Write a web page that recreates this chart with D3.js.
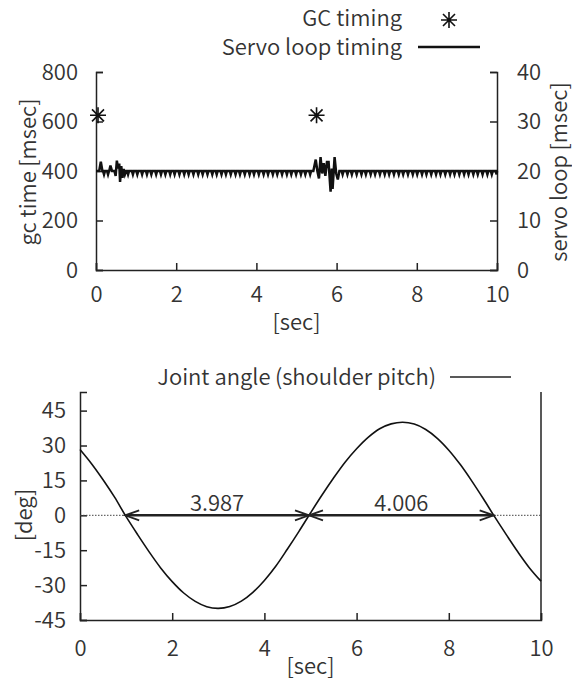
<!DOCTYPE html>
<html>
<head>
<meta charset="utf-8">
<script src="https://cdn.jsdelivr.net/npm/d3@7"></script>
<style>
  body { margin: 0; background: #fff; }
  text { font-family: "Noto Sans CJK JP", "Noto Sans", sans-serif; font-weight: 350; fill: #333; }
</style>
</head>
<body>
<svg id="svg1" width="572" height="682"></svg>
<script>
// top panel: gc events and servo loop timing
var gcTimes = [0.05, 5.5];
var gcMsec = [625, 625];
// regular small dips of the servo loop [sec]
var servoDipTimes = [0.2, 0.3, 0.8, 0.92, 1.03, 1.15, 1.27, 1.38, 1.5, 1.62, 1.73, 1.85, 1.96, 2.08, 2.2, 2.31,
    2.43, 2.55, 2.66, 2.78, 2.9, 3.01, 3.13, 3.24, 3.36, 3.48, 3.59, 3.71, 3.83, 3.94, 4.06, 4.18, 4.29, 4.41,
    4.52, 4.64, 4.76, 4.87, 4.99, 5.11, 5.22, 5.34, 6.15, 6.27, 6.38, 6.5, 6.62, 6.73, 6.85, 6.96, 7.08, 7.2,
    7.31, 7.43, 7.55, 7.66, 7.78, 7.9, 8.01, 8.13, 8.24, 8.36, 8.48, 8.59, 8.71, 8.83, 8.94, 9.06, 9.18, 9.29,
    9.41, 9.52, 9.64, 9.76, 9.87, 9.99];
var servoDipMs = 19.3;
var servoBaseMs = 20;
// the two noisy bursts [sec, msec]
var servoBurst1 = [[0.08, 20], [0.12, 21.9], [0.16, 20], [0.33, 20], [0.36, 21.1], [0.4, 20], [0.46, 20], [0.49, 19],
    [0.52, 22.1], [0.55, 20.5], [0.58, 21.5], [0.6, 17.8], [0.63, 21], [0.66, 18.6], [0.69, 20.4], [0.72, 19.3], [0.75, 20]];
var servoBurst2 = [[5.42, 20], [5.48, 22.3], [5.52, 20], [5.56, 18.5], [5.6, 22.8], [5.64, 19.5], [5.68, 21.6],
    [5.72, 19], [5.76, 21.8], [5.8, 21.8], [5.85, 15.8], [5.88, 20.5], [5.9, 16.4], [5.95, 22.8], [5.99, 19.5],
    [6.03, 18.3], [6.07, 20]];
var gcTicks = [0, 200, 400, 600, 800];
var servoTicks = [0, 10, 20, 30, 40];
var secTicks = [0, 2, 4, 6, 8, 10];

// bottom panel: joint angle
var angleTimes = [0, 0.25, 0.5, 0.75, 1, 1.25, 1.5, 1.75, 2, 2.25, 2.5, 2.75, 3, 3.25, 3.5, 3.75, 4, 4.25, 4.5, 4.75,
    5, 5.25, 5.5, 5.75, 6, 6.25, 6.5, 6.75, 7, 7.25, 7.5, 7.75, 8, 8.25, 8.5, 8.75, 9, 9.25, 9.5, 9.75, 10];
var angleDeg = [28.3, 22.2, 15.3, 7.8, -0.6, -8.3, -15.7, -22.6, -28.5, -33.4, -37, -39.3, -40, -39.2, -36.9, -33.1,
    -28, -21.8, -14.5, -6.9, 1, 8.7, 16, 22.8, 28.6, 33.5, 37.2, 39.3, 40, 39.2, 36.9, 33.1, 28, 21.8, 14.7, 7.1,
    -0.8, -8.4, -15.8, -22.6, -28.3];
var degTicks = [-45, -30, -15, 0, 15, 30, 45];
var periodStarts = [0.98, 4.967];
var periodEnds = [4.967, 8.973];
var periodLabels = ["3.987", "4.006"];

var svg = d3.select("#svg1");
var ink = "#222";
var tickLen = 7;
var fs = "22px";
var fmt = function (d) { return String(d); };

// ---------- top panel ----------
var x1 = d3.scaleLinear().domain([0, 10]).range([96, 497]),
    yGc = d3.scaleLinear().domain([0, 800]).range([270, 72]),
    ySv = d3.scaleLinear().domain([0, 40]).range([270, 72]);

var topG = svg.append("g");
topG.append("g").attr("transform", "translate(0,270)")
    .call(d3.axisBottom(x1).tickValues(secTicks).tickSize(-tickLen).tickPadding(tickLen + 9).tickFormat(fmt));
topG.append("g").attr("transform", "translate(96,0)")
    .call(d3.axisLeft(yGc).tickValues(gcTicks).tickSize(-tickLen).tickPadding(tickLen + 11).tickFormat(fmt));
topG.append("g").attr("transform", "translate(497,0)")
    .call(d3.axisRight(ySv).tickValues(servoTicks).tickSize(-tickLen).tickPadding(tickLen + 13).tickFormat(fmt));

// servo line: baseline with dips, plus the two bursts
var servoPts = servoBurst1.concat(servoBurst2);
servoDipTimes.forEach(function (t) {
    servoPts.push([t - 0.025, servoBaseMs], [t, servoDipMs], [t + 0.025, servoBaseMs]);
});
servoPts.push([0, servoBaseMs], [10, servoBaseMs]);
servoPts.sort(function (a, b) { return a[0] - b[0]; });
topG.append("path").datum(servoPts)
    .attr("fill", "none").attr("stroke", "#111").attr("stroke-width", 2.5).attr("stroke-linejoin", "miter")
    .attr("d", d3.line().x(function (d) { return x1(d[0]); }).y(function (d) { return ySv(d[1]); }));

var star = "M-8,0H8M0,-8V8M-6,-6L6,6M-6,6L6,-6";
topG.selectAll(".gc").data(gcTimes).enter().append("path").attr("class", "gc")
    .attr("transform", function (d, i) { return "translate(" + x1(d) + "," + yGc(gcMsec[i]) + ")"; })
    .attr("d", star).attr("stroke", "#111").attr("stroke-width", 1.6).attr("fill", "none");

// legend
topG.append("text").attr("x", 402).attr("y", 26).attr("text-anchor", "end").style("font-size", fs).text("GC timing");
topG.append("path").attr("transform", "translate(449,20)").attr("d", star).attr("stroke", "#111").attr("stroke-width", 1.6);
topG.append("text").attr("x", 402).attr("y", 55).attr("text-anchor", "end").style("font-size", fs).text("Servo loop timing");
topG.append("line").attr("x1", 418).attr("x2", 480).attr("y1", 47).attr("y2", 47).attr("stroke", "#111").attr("stroke-width", 2.4);

topG.append("text").attr("x", x1(5)).attr("y", 330).attr("text-anchor", "middle").style("font-size", fs).text("[sec]");
topG.append("text").attr("transform", "translate(26,172) rotate(-90)").attr("text-anchor", "middle")
    .attr("dominant-baseline", "central").style("font-size", fs).text("gc time\u2009[msec]");
topG.append("text").attr("transform", "translate(557,172) rotate(-90)").attr("text-anchor", "middle")
    .attr("dominant-baseline", "central").style("font-size", fs).text("servo loop\u2009[msec]");

// ---------- bottom panel ----------
var x2 = d3.scaleLinear().domain([0, 10]).range([80, 541]),
    y2 = d3.scaleLinear().domain([-45, 53]).range([620, 392]);

var bot = svg.append("g");
bot.append("g").attr("transform", "translate(0,620)")
    .call(d3.axisBottom(x2).tickValues(secTicks).tickSize(-tickLen).tickPadding(tickLen + 13).tickFormat(fmt));
bot.append("g").attr("transform", "translate(80,0)")
    .call(d3.axisLeft(y2).tickValues(degTicks).tickSize(-tickLen).tickPadding(tickLen + 7).tickFormat(fmt));
bot.append("line").attr("x1", x2(10)).attr("x2", x2(10)).attr("y1", y2(53)).attr("y2", y2(-45))
    .attr("stroke", ink).attr("stroke-width", 1.5);

bot.append("line").attr("x1", x2(0)).attr("x2", x2(10)).attr("y1", y2(0)).attr("y2", y2(0))
    .attr("stroke", "#444").attr("stroke-width", 1).attr("stroke-dasharray", "1.5,1.5");

bot.append("path").datum(angleTimes.map(function (t, i) { return [t, angleDeg[i]]; }))
    .attr("fill", "none").attr("stroke", "#111").attr("stroke-width", 1.6)
    .attr("d", d3.line().curve(d3.curveCatmullRom).x(function (d) { return x2(d[0]); }).y(function (d) { return y2(d[1]); }));

// period arrows
periodStarts.forEach(function (s, i) {
    var a = x2(s), b = x2(periodEnds[i]), y = y2(0);
    var g = bot.append("g").attr("stroke", "#222").attr("fill", "none");
    g.append("line").attr("x1", a).attr("x2", b).attr("y1", y).attr("y2", y).attr("stroke-width", 2.6);
    g.append("path").attr("d", "M" + (a + 14) + "," + (y - 5) + "L" + a + "," + y + "L" + (a + 14) + "," + (y + 5)).attr("stroke-width", 1.8);
    g.append("path").attr("d", "M" + (b - 14) + "," + (y - 5) + "L" + b + "," + y + "L" + (b - 14) + "," + (y + 5)).attr("stroke-width", 1.8);
    bot.append("text").attr("x", (a + b) / 2).attr("y", y - 4).attr("text-anchor", "middle")
        .style("font-size", fs).text(periodLabels[i]);
});

bot.append("text").attr("x", 436).attr("y", 385).attr("text-anchor", "end").style("font-size", fs).text("Joint angle\u2009(shoulder pitch)");
bot.append("line").attr("x1", 450).attr("x2", 511).attr("y1", 377).attr("y2", 377).attr("stroke", "#222").attr("stroke-width", 1.5);

bot.append("text").attr("x", x2(5)).attr("y", 674).attr("text-anchor", "middle").style("font-size", fs).text("[sec]");
bot.append("text").attr("transform", "translate(22,515) rotate(-90)").attr("text-anchor", "middle")
    .attr("dominant-baseline", "central").style("font-size", fs).text("[deg]");

// axis styling
svg.selectAll(".domain").attr("stroke", ink).attr("stroke-width", 1.5);
svg.selectAll(".tick line").attr("stroke", ink).attr("stroke-width", 1.5);
svg.selectAll(".tick text").style("font-size", fs).attr("fill", "#333");
</script>
</body>
</html>
